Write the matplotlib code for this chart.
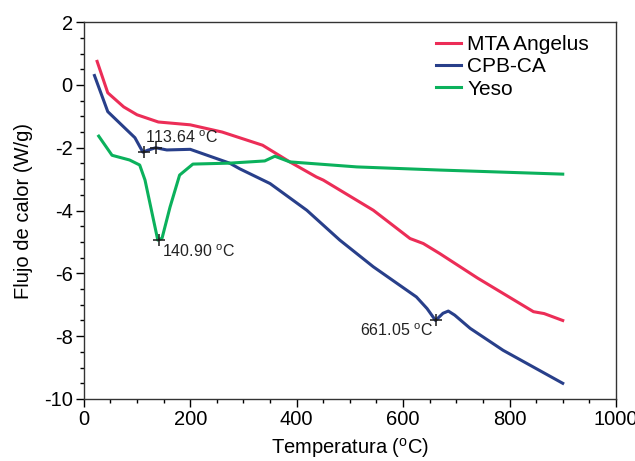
import matplotlib
matplotlib.use("Agg")
import matplotlib.pyplot as plt
from matplotlib.ticker import MultipleLocator

plt.rcParams['font.family'] = ['Liberation Sans', 'DejaVu Sans']
plt.rcParams['mathtext.fontset'] = 'custom'
plt.rcParams['mathtext.rm'] = 'Liberation Sans'
plt.rcParams['axes.unicode_minus'] = False

# DSC curves: temperature (C) vs heat flow (W/g)
mta_t = [25, 45, 75, 100, 140, 200, 260, 336, 387, 437, 450, 544, 613, 638, 669,
         740, 845, 865, 900]
mta_q = [0.75, -0.25, -0.7, -0.95, -1.18, -1.27, -1.5, -1.92, -2.45, -2.93, -3.03,
         -3.99, -4.89, -5.05, -5.37, -6.15, -7.22, -7.28, -7.5]

cpb_t = [20, 45, 80, 96, 111, 120, 135, 156, 200, 274, 293, 350, 419, 481, 544, 625, 645,
         661, 675, 685, 697, 726, 788, 900]
cpb_q = [0.3, -0.85, -1.42, -1.68, -2.14, -2.08, -2.0, -2.07, -2.05, -2.49, -2.67, -3.14,
         -3.99, -4.94, -5.79, -6.75, -7.12, -7.5, -7.27, -7.2, -7.33, -7.75, -8.45, -9.5]

yeso_t = [28, 53, 86, 105, 115, 139, 147, 162, 180, 205, 274, 340, 359, 387, 513, 669, 900]
yeso_q = [-1.63, -2.24, -2.39, -2.55, -3.03, -4.94, -4.88, -3.89, -2.87, -2.52, -2.49,
          -2.42, -2.27, -2.45, -2.61, -2.71, -2.84]

# marked thermal events
peak_t = [113.64, 135, 140.90, 661.05]
peak_q = [-2.14, -2.0, -4.94, -7.5]

c_mta = '#EC2D57'
c_cpb = '#283F8A'
c_yeso = '#0BB15C'

fig = plt.figure(figsize=(6.35, 4.61), dpi=100)
ax = fig.add_axes([0.132, 0.1345, 0.838, 0.8175])

ax.plot(mta_t, mta_q, color=c_mta, lw=2.2, label='MTA Angelus')
ax.plot(cpb_t, cpb_q, color=c_cpb, lw=2.2, label='CPB-CA')
ax.plot(yeso_t, yeso_q, color=c_yeso, lw=2.2, label='Yeso')
ax.plot(peak_t, peak_q, ls='none', marker='+', ms=9, mew=1.1, color='#1a1a1a')

deg = r'$^{\mathrm{o}}$C'
ax.text(115, -1.69, '113.64 ' + deg, fontsize=11.5, ha='left', va='center', color='#222222')
ax.text(147, -5.32, '140.90 ' + deg, fontsize=11.5, ha='left', va='center', color='#222222')
ax.text(656, -7.81, '661.05 ' + deg, fontsize=11.5, ha='right', va='center', color='#222222')

ax.set_xlim(0, 1000)
ax.set_ylim(-10, 2)
ax.xaxis.set_major_locator(MultipleLocator(200))
ax.xaxis.set_minor_locator(MultipleLocator(50))
ax.yaxis.set_major_locator(MultipleLocator(2))
ax.yaxis.set_minor_locator(MultipleLocator(0.5))
ax.tick_params(which='major', direction='out', length=6, width=1, labelsize=14.5, pad=2)
ax.tick_params(which='minor', direction='out', length=3, width=1)
for s in ax.spines.values():
    s.set_linewidth(1)
    s.set_color('#333333')

ax.set_xlabel('Temperatura (' + deg + ')', fontsize=14.5, labelpad=5)
ax.set_ylabel('Flujo de calor (W/g)', fontsize=14.5, labelpad=8)

ax.legend(loc='upper left', bbox_to_anchor=(0.662, 0.965), frameon=False, fontsize=15,
          handlelength=1.2, handletextpad=0.3, labelspacing=0.15, borderpad=0,
          borderaxespad=0)

fig.savefig('out.png', dpi=100)
